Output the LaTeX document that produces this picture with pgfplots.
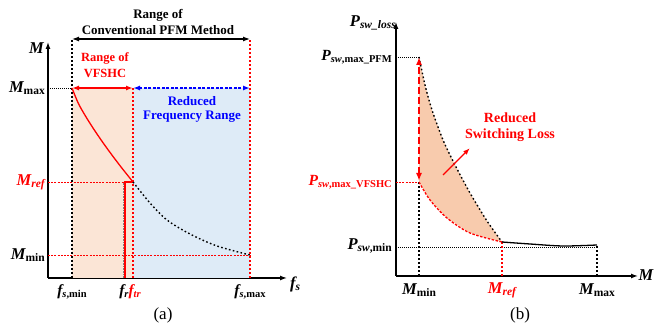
\documentclass[border=0pt]{standalone}
\usepackage{pgfplots}
\pgfplotsset{compat=1.18}
\usetikzlibrary{arrows.meta}
\usepackage{fontspec}
\setmainfont{Liberation Serif}
\definecolor{shO}{HTML}{FBE5D6}
\definecolor{shB}{HTML}{DEEBF7}
\definecolor{shP}{HTML}{F8CBAD}
\newcommand{\lab}[2]{{\fontsize{16.5}{16.5}\selectfont\bfseries\itshape #1}\raisebox{-0.45ex}{\fontsize{11.5}{11.5}\selectfont\bfseries #2}}
\newcommand{\labp}[2]{{\fontsize{15.5}{15.5}\selectfont\bfseries\itshape #1}\raisebox{-0.45ex}{\fontsize{10.5}{10.5}\selectfont\bfseries #2}}
\tikzset{
 bdot/.style={black, line width=1.6pt, dash pattern=on 1.6pt off 2.4pt},
 rdot/.style={red, line width=1.6pt, dash pattern=on 1.6pt off 2.4pt},
 tdot/.style={black, line width=0.7pt, dash pattern=on 1pt off 1pt},
 rdash/.style={red, line width=0.7pt, dash pattern=on 2pt off 1.2pt},
}
\begin{document}
\begin{tikzpicture}
\path[use as bounding box] (0,0) rectangle (654pt,331pt);
% ---------------- (a) ----------------
\begin{axis}[at={(48pt,53pt)}, anchor=south west, scale only axis,
 width=239pt, height=236pt, xmin=48, xmax=287, ymin=53, ymax=289,
 axis lines=left, axis line style={line width=1.3pt, -{Latex[length=7pt,width=5pt]}},
 xtick=\empty, ytick=\empty, clip=false]
\addplot[fill=shO, draw=none] coordinates {(72,53) (133,53) (133,243) (72,243)} -- cycle;
\addplot[fill=shB, draw=none] coordinates {(133,53) (250,53) (250,243) (133,243)} -- cycle;
\addplot[bdot] coordinates {(72,53) (72,292)};
\addplot[rdot] coordinates {(133,53) (133,243)};
\addplot[rdot] coordinates {(250,53) (250,292)};
\addplot[tdot] coordinates {(48,243) (72,243)};
\addplot[rdash] coordinates {(48,149) (125,149)};
\addplot[rdash] coordinates {(48,76) (250,76)};
\addplot[gray, line width=0.6pt, dash pattern=on 0.8pt off 0.8pt] coordinates {(123,53) (123,149)};
\addplot[red, line width=1.6pt] coordinates {(125,53) (125,149) (133,149)};
\addplot[red, line width=1.3pt, smooth] coordinates {(72,243) (78.1,228.1) (84.2,217.1) (90.3,207.2) (96.4,197.9) (102.5,189.0) (108.6,180.5) (114.7,172.3) (120.8,164.3) (126.9,156.6) (133,149)};
\addplot[bdot, line width=1.4pt, smooth] coordinates {(133,149) (150,128) (167,111) (190,97) (217,85) (250,76)};
\addplot[black, line width=1.2pt, {Latex[length=7pt,width=5pt]}-{Latex[length=7pt,width=5pt]}] coordinates {(72,292) (250,292)};
\addplot[red, line width=1.4pt, {Latex[length=7pt,width=5pt]}-{Latex[length=7pt,width=5pt]}] coordinates {(72,243) (133,243)};
\addplot[blue, line width=1.4pt, dash pattern=on 3pt off 1.5pt, {Latex[length=7pt,width=5pt]}-{Latex[length=7pt,width=5pt]}] coordinates {(133,243) (250,243)};
\node[font=\fontsize{13}{13}\selectfont\bfseries] at (axis cs:158,316) {Range of};
\node[font=\fontsize{13}{13}\selectfont\bfseries] at (axis cs:158,301) {Conventional PFM Method};
\node[font=\fontsize{12.5}{12.5}\selectfont\bfseries, text=red] at (axis cs:105,273) {Range of};
\node[font=\fontsize{12.5}{12.5}\selectfont\bfseries, text=red] at (axis cs:105,258) {VFSHC};
\node[font=\fontsize{13}{13}\selectfont\bfseries, text=blue] at (axis cs:192,230) {Reduced};
\node[font=\fontsize{13}{13}\selectfont\bfseries, text=blue] at (axis cs:192,214) {Frequency Range};
\node[anchor=east, inner sep=0pt] at (axis cs:44,282) {\lab{M}{}};
\node[anchor=east, inner sep=0pt] at (axis cs:45,243) {\lab{M}{max}};
\node[anchor=east, inner sep=0pt, text=red] at (axis cs:45,149) {\lab{M}{\itshape ref}};
\node[anchor=east, inner sep=0pt] at (axis cs:45,76) {\lab{M}{min}};
\node[inner sep=0pt] at (axis cs:72,39) {\labp{f}{\itshape s\upshape,min}};
\node[inner sep=0pt] at (axis cs:130,39) {\labp{f}{\itshape r}\textcolor{red}{\labp{f}{\itshape tr}}};
\node[inner sep=0pt] at (axis cs:250,39) {\labp{f}{\itshape s\upshape,max}};
\node[anchor=west, inner sep=0pt] at (axis cs:290,47) {\lab{f}{\itshape s}};
\node[font=\fontsize{17}{17}\selectfont] at (axis cs:163,16) {(a)};
\end{axis}
% ---------------- (b) ----------------
\begin{axis}[at={(396pt,55pt)}, anchor=south west, scale only axis,
 width=242pt, height=254pt, xmin=396, xmax=638, ymin=55, ymax=309,
 axis lines=left, axis line style={line width=1.3pt, -{Latex[length=7pt,width=5pt]}},
 xtick=\empty, ytick=\empty, clip=false]
\addplot[fill=shP, draw=none] coordinates {(419,274) (425,246) (432,221) (443,191) (455,166) (470,138) (487,110) (502,89) (470,98) (447,113) (430,131) (419,149)} -- cycle;
\addplot[tdot] coordinates {(396,274) (419,274)};
\addplot[rdash] coordinates {(396,149) (419,149)};
\addplot[tdot] coordinates {(396,84) (597,84)};
\addplot[bdot] coordinates {(419,55) (419,149)};
\addplot[rdot] coordinates {(502,55) (502,89)};
\addplot[bdot] coordinates {(597,55) (597,86)};
\addplot[bdot, line width=1.4pt, smooth] coordinates {(419,274) (425,246) (432,221) (443,191) (455,166) (470,138) (487,110) (502,89)};
\addplot[red, line width=1.3pt, dash pattern=on 2.5pt off 1.5pt, smooth] coordinates {(419,149) (430,131) (447,113) (470,98) (502,89)};
\addplot[black, line width=1.3pt, smooth] coordinates {(502,89) (530,87) (563,85) (597,86)};
\addplot[red, line width=1.8pt, dash pattern=on 7pt off 3pt, {Latex[length=8pt,width=6pt]}-{Latex[length=8pt,width=6pt]}] coordinates {(419,150) (419,274)};
\addplot[red, line width=1.3pt, -{Latex[length=7pt,width=5pt]}] coordinates {(443,156) (470,183)};
\node[font=\fontsize{14}{14}\selectfont\bfseries, text=red] at (axis cs:510,213) {Reduced};
\node[font=\fontsize{14}{14}\selectfont\bfseries, text=red] at (axis cs:510,196) {Switching Loss};
\node[anchor=east, inner sep=0pt] at (axis cs:396,308) {\lab{P}{\itshape sw\_loss}};
\node[anchor=east, inner sep=0pt] at (axis cs:392,274) {\labp{P}{\itshape sw\upshape,max\_PFM}};
\node[anchor=east, inner sep=0pt, text=red] at (axis cs:392,149) {\labp{P}{\itshape sw\upshape,max\_VFSHC}};
\node[anchor=east, inner sep=0pt] at (axis cs:392,85) {\lab{P}{\itshape sw\upshape,min}};
\node[inner sep=0pt] at (axis cs:419,41) {\lab{M}{min}};
\node[inner sep=0pt, text=red] at (axis cs:502,41) {\lab{M}{\itshape ref}};
\node[inner sep=0pt] at (axis cs:597,41) {\lab{M}{max}};
\node[anchor=west, inner sep=0pt] at (axis cs:638.5,55) {\lab{M}{}};
\node[font=\fontsize{17}{17}\selectfont] at (axis cs:520,16) {(b)};
\end{axis}
\end{tikzpicture}
\end{document}
